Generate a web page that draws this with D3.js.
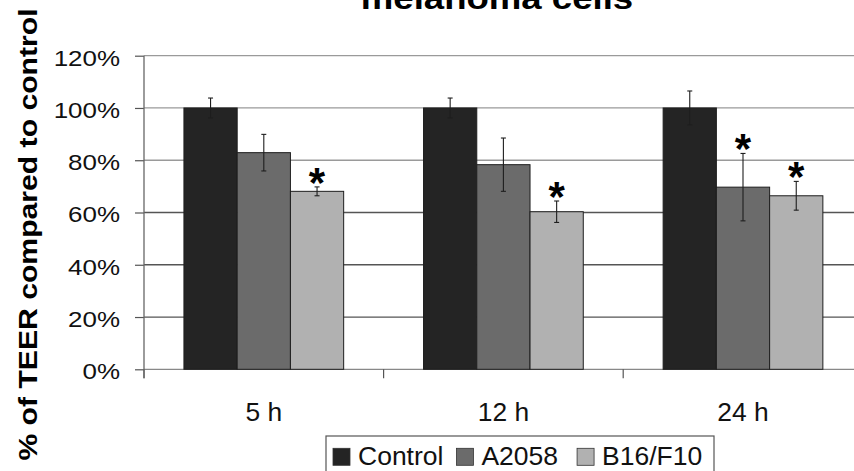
<!DOCTYPE html>
<html><head><meta charset="utf-8">
<script src="https://cdn.jsdelivr.net/npm/d3@7"></script>
<style>body{margin:0;background:#fff} svg{display:block;font-family:Arial,"Liberation Sans",sans-serif}</style>
</head><body><svg id="c" width="854" height="471"></svg>
<script>
// ---- data ----
const categories = ["5 h", "12 h", "24 h"];
const seriesNames = ["Control", "A2058", "B16/F10"];
const controlValues = [1.00, 1.00, 1.00];
const a2058Values = [0.829, 0.783, 0.697];
const b16f10Values = [0.681, 0.603, 0.664];
const controlErrors = [0.038, 0.038, 0.065];
const a2058Errors = [0.070, 0.102, 0.129];
const b16f10Errors = [0.017, 0.041, 0.055];
const controlSignificant = [false, false, false];
const a2058Significant = [false, false, true];
const b16f10Significant = [true, true, true];
const yTickValues = [0, 0.2, 0.4, 0.6, 0.8, 1.0, 1.2];
const titleText = "melanoma cells";
const yTitleText = "% of TEER compared to control";

// ---- build ----
const seriesValues = [controlValues, a2058Values, b16f10Values];
const seriesErrors = [controlErrors, a2058Errors, b16f10Errors];
const seriesSig = [controlSignificant, a2058Significant, b16f10Significant];
const colors = ["#242424", "#6b6b6b", "#b1b1b1"];
const rows = [];
categories.forEach((c, ci) => seriesNames.forEach((s, si) => rows.push({
  cat: c, ser: s, si, v: seriesValues[si][ci], e: seriesErrors[si][ci], sig: seriesSig[si][ci]
})));

const svg = d3.select("#c");
const plotL = 144, plotR = 862.8, plotT = 55.7, plotB = 369.3;
const x = d3.scaleBand().domain(categories).range([plotL, plotR]).paddingInner(0).paddingOuter(0);
const xs = d3.scaleBand().domain(seriesNames).range([0, x.bandwidth()]).paddingInner(0).paddingOuter(0.75);
const y = d3.scaleLinear().domain([0, 1.2]).range([plotB, plotT]);

// gridlines
svg.append("g").selectAll("line").data(yTickValues.filter(d => d > 0)).join("line")
  .attr("x1", plotL).attr("x2", plotR)
  .attr("y1", d => y(d)).attr("y2", d => y(d))
  .attr("stroke", d => d >= 0.8 ? "#9a9a9a" : "#555").attr("stroke-width", 1.3);

// x axis line + ticks
svg.append("line").attr("x1", plotL).attr("x2", plotR).attr("y1", y(0)).attr("y2", y(0))
  .attr("stroke", "#888").attr("stroke-width", 1.3);
const bounds = categories.map(c => x(c)).concat([plotR]);
svg.append("g").selectAll("line").data(bounds).join("line")
  .attr("x1", d => d).attr("x2", d => d).attr("y1", y(0)).attr("y2", y(0) + 9)
  .attr("stroke", "#555").attr("stroke-width", 1.2);

// y axis
const yAxis = svg.append("g").attr("transform", `translate(${plotL},0)`)
  .call(d3.axisLeft(y).tickValues(yTickValues).tickSize(9).tickSizeOuter(0).tickFormat(d3.format(".0%")));
yAxis.select(".domain").remove();
yAxis.selectAll(".tick line").attr("stroke", "#555").attr("stroke-width", 1.2);
yAxis.selectAll(".tick text")
  .attr("x", 0).attr("dy", null).attr("y", 0)
  .attr("transform", "translate(-24,9.4) scale(1.18,1)")
  .attr("font-size", 22).attr("fill", "#111").attr("font-family", "Arial, 'Liberation Sans', sans-serif");
svg.append("line").attr("x1", plotL).attr("x2", plotL).attr("y1", plotT).attr("y2", y(0) + 9)
  .attr("stroke", "#666").attr("stroke-width", 1.3);

// x labels
const xAxis = svg.append("g").attr("transform", `translate(0,${y(0)})`)
  .call(d3.axisBottom(x).tickSize(0));
xAxis.select(".domain").remove();
xAxis.selectAll(".tick text").attr("dy", null).attr("y", 51.4)
  .attr("font-size", 26.4).attr("fill", "#111").attr("font-family", "Arial, 'Liberation Sans', sans-serif");

// bars
svg.append("g").selectAll("rect").data(rows).join("rect")
  .attr("x", d => x(d.cat) + xs(d.ser)).attr("width", xs.bandwidth())
  .attr("y", d => y(d.v)).attr("height", d => y(0) - y(d.v))
  .attr("fill", d => colors[d.si]).attr("stroke", "#1e1e1e").attr("stroke-width", 1);

// error bars
const eg = svg.append("g").attr("stroke", "#1e1e1e").attr("stroke-width", 1.1);
rows.forEach(d => {
  const cx = x(d.cat) + xs(d.ser) + xs.bandwidth() / 2;
  eg.append("line").attr("x1", cx).attr("x2", cx).attr("y1", y(d.v + d.e)).attr("y2", y(d.v - d.e));
  [d.v + d.e, d.v - d.e].forEach(t => eg.append("line")
    .attr("x1", cx - 2.5).attr("x2", cx + 2.5).attr("y1", y(t)).attr("y2", y(t)));
});

// asterisks
svg.append("g").selectAll("text").data(rows.filter(d => d.sig)).join("text")
  .attr("x", d => x(d.cat) + xs(d.ser) + xs.bandwidth() / 2)
  .attr("y", d => y(d.v + d.e) + 10)
  .attr("text-anchor", "middle").attr("font-weight", "bold").attr("font-size", 42)
  .attr("fill", "#000").text("*");

// title
svg.append("text").attr("transform", "translate(497,8.5) scale(1.18,1)")
  .attr("text-anchor", "middle").attr("font-weight", "bold").attr("font-size", 31)
  .attr("fill", "#000").text(titleText);

// y title
svg.append("text").attr("transform", "translate(37,234.5) rotate(-90) scale(1.16,1)")
  .attr("text-anchor", "middle").attr("font-weight", "bold").attr("font-size", 26)
  .attr("fill", "#000").text(yTitleText);

// legend
const lg = svg.append("g");
lg.append("rect").attr("x", 326).attr("y", 436).attr("width", 388).attr("height", 50)
  .attr("fill", "#fff").attr("stroke", "#555").attr("stroke-width", 1.2);
let cursor = 333;
const gaps = [13, 19];
seriesNames.forEach((s, i) => {
  lg.append("rect").attr("x", cursor).attr("y", 448.3).attr("width", 17).attr("height", 17)
    .attr("fill", colors[i]).attr("stroke", "#333").attr("stroke-width", 0.8);
  const t = lg.append("text").attr("x", cursor + 25).attr("y", 465).attr("font-size", 26.5)
    .attr("fill", "#111").text(s);
  cursor += 25 + t.node().getComputedTextLength() + (gaps[i] || 0);
});
</script></body></html>
